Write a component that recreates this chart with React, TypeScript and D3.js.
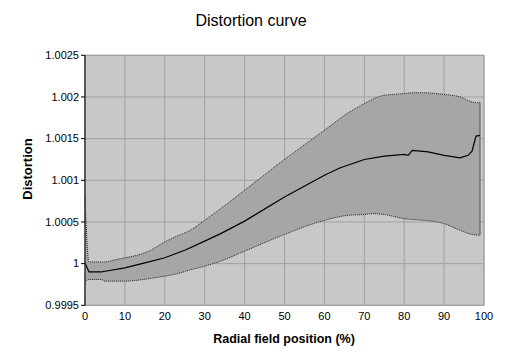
import React from "react";
import * as d3 from "d3";

const bandX = [0, 1, 4, 5, 7, 10, 13, 16, 20, 24, 26, 30, 34, 40, 50, 60, 66, 70, 72, 75, 80, 82, 85, 90, 94, 97, 99];
const upperY = [1.0008, 1.00002, 1.00002, 1.00002, 1.00004, 1.00007, 1.0001, 1.00015, 1.00026, 1.00035, 1.00039, 1.00052, 1.00066, 1.00088, 1.00125, 1.0016, 1.00181, 1.00192, 1.00197, 1.00202, 1.00204, 1.00205, 1.00205, 1.00203, 1.002, 1.00194, 1.00193];
const lowerY = [0.99978, 0.99981, 0.99981, 0.99979, 0.99979, 0.99979, 0.9998, 0.99982, 0.99985, 0.99989, 0.99992, 0.99997, 1.00003, 1.00015, 1.00035, 1.00052, 1.00058, 1.00059, 1.0006, 1.00059, 1.00054, 1.00053, 1.00052, 1.00048, 1.0004, 1.00035, 1.00034];
const meanX = [0, 1, 4, 10, 15, 20, 25, 30, 34, 40, 50, 60, 64, 70, 75, 80, 81, 82, 86, 90, 94, 96, 97, 98, 99];
const meanY = [1.00001, 0.9999, 0.9999, 0.99995, 1.00001, 1.00007, 1.00016, 1.00027, 1.00036, 1.00051, 1.0008, 1.00106, 1.00115, 1.00125, 1.00129, 1.00131, 1.0013, 1.00136, 1.00134, 1.0013, 1.00127, 1.0013, 1.00135, 1.00153, 1.00154];
const xTicks = [0, 10, 20, 30, 40, 50, 60, 70, 80, 90, 100];
const yTicks = [0.9995, 1, 1.0005, 1.001, 1.0015, 1.002, 1.0025];

export default function App() {
  const left = 85, right = 484, top = 55.3, bottom = 305.3;
  const x = d3.scaleLinear().domain([0, 100]).range([left, right]);
  const y = d3.scaleLinear().domain([0.9995, 1.0025]).range([bottom, top]);
  const band = bandX.map((v, i) => ({ x: v, u: upperY[i], l: lowerY[i] }));
  const curve = d3.curveMonotoneX;
  const area = d3.area<any>().curve(curve).x((d) => x(d.x)).y0((d) => y(d.l)).y1((d) => y(d.u))(band) || "";
  const upLine = d3.line<any>().curve(curve).x((d) => x(d.x)).y((d) => y(d.u))(band) || "";
  const loLine = d3.line<any>().curve(curve).x((d) => x(d.x)).y((d) => y(d.l))(band) || "";
  const mean = d3.line<number>().x((d, i) => x(meanX[i])).y((d) => y(d))(meanY) || "";
  const last = band[band.length - 1];
  const font = "Arial, 'Liberation Sans', sans-serif";
  const fmt = (v: number) => String(+v.toFixed(4));
  return (
    <svg width={505} height={357} style={{ position: "absolute", left: 0, top: 0, background: "#fff" }} fontFamily={font}>
      <rect x={left} y={top} width={right - left} height={bottom - top} fill="#c8c8c8" />
      {xTicks.map((t) => (
        <line key={"gx" + t} x1={x(t)} x2={x(t)} y1={top} y2={bottom} stroke="#a0a0a0" strokeWidth={1} />
      ))}
      {yTicks.map((t) => (
        <line key={"gy" + t} x1={left} x2={right} y1={y(t)} y2={y(t)} stroke="#a0a0a0" strokeWidth={1} />
      ))}
      <path d={area} fill="#a6a6a6" />
      <path d={upLine} fill="none" stroke="#222" strokeWidth={1} strokeDasharray="1,1" />
      <path d={loLine} fill="none" stroke="#222" strokeWidth={1} strokeDasharray="1,1" />
      <line x1={x(last.x)} x2={x(last.x)} y1={y(last.u)} y2={y(last.l)} stroke="#555" strokeWidth={1} />
      <path d={mean} fill="none" stroke="#000" strokeWidth={1.2} />
      <rect x={left} y={top} width={right - left} height={bottom - top} fill="none" stroke="#a0a0a0" strokeWidth={1} />
      <line x1={left} x2={left} y1={top} y2={bottom} stroke="#000" strokeWidth={1} />
      {yTicks.map((t) => (
        <g key={"yt" + t}>
          <line x1={left - 4} x2={left} y1={y(t)} y2={y(t)} stroke="#000" />
          <text x={left - 6} y={y(t)} dy="0.35em" textAnchor="end" fontSize={11} fill="#000">{fmt(t)}</text>
        </g>
      ))}
      {xTicks.map((t) => (
        <text key={"xt" + t} x={x(t)} y={320} textAnchor="middle" fontSize={11} fill="#000">{t}</text>
      ))}
      <text x={251} y={26} textAnchor="middle" fontSize={16} fill="#000">Distortion curve</text>
      <text x={284} y={343} textAnchor="middle" fontSize={12.5} fontWeight="bold" fill="#000">Radial field position (%)</text>
      <text transform={`translate(32,169) rotate(-90)`} textAnchor="middle" fontSize={13} fontWeight="bold" fill="#000">Distortion</text>
    </svg>
  );
}
